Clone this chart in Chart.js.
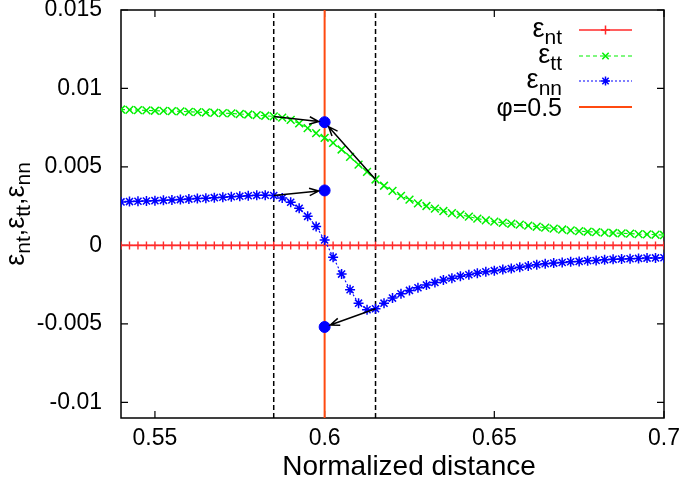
<!DOCTYPE html>
<html><head><meta charset="utf-8">
<script src="https://cdn.jsdelivr.net/npm/chart.js@4.4.0/dist/chart.umd.min.js"></script>
<style>html,body{margin:0;padding:0;background:#fff}canvas{display:block}</style>
</head><body>
<canvas id="c" width="685" height="491"></canvas>
<script>
// ---- data ----
const distance = [0.54,0.5425,0.545,0.5475,0.55,0.5525,0.555,0.5575,0.56,0.5625,0.565,0.5675,0.57,0.5725,0.575,0.5775,0.58,0.5825,0.585,0.5875,0.59,0.5925,0.595,0.5975,0.6,0.6025,0.605,0.6075,0.61,0.6125,0.615,0.6175,0.62,0.6225,0.625,0.6275,0.63,0.6325,0.635,0.6375,0.64,0.6425,0.645,0.6475,0.65,0.6525,0.655,0.6575,0.66,0.6625,0.665,0.6675,0.67,0.6725,0.675,0.6775,0.68,0.6825,0.685,0.6875,0.69,0.6925,0.695,0.6975,0.7];
const epsNT = [0,0,0,0,0,0,0,0,0,0,0,0,0,0,0,0,0,0,0,0,0,0,0,0,0,0,0,0,0,0,0,0,0,0,0,0,0,0,0,0,0,0,0,0,0,0,0,0,0,0,0,0,0,0,0,0,0,0,0,0,0,0,0,0,0];
const epsTT = [0.00866,0.00864,0.00862,0.0086,0.00858,0.00857,0.00856,0.00854,0.00851,0.00849,0.00847,0.00845,0.00843,0.00841,0.00837,0.00834,0.0083,0.00826,0.00822,0.00814,0.008,0.00777,0.00747,0.00715,0.00685,0.00653,0.00611,0.00564,0.00515,0.00468,0.0042,0.0038,0.00347,0.00315,0.00292,0.00268,0.00251,0.00234,0.00219,0.00206,0.00196,0.00183,0.00171,0.0016,0.00151,0.00144,0.00138,0.00132,0.00126,0.00119,0.00113,0.00107,0.00101,0.00096,0.00091,0.00087,0.00085,0.00081,0.00079,0.00077,0.00075,0.00072,0.0007,0.00068,0.00066];
const epsNN = [0.00277,0.00279,0.00281,0.00283,0.00285,0.00287,0.00289,0.00292,0.00295,0.00298,0.003,0.00304,0.00307,0.0031,0.00313,0.00316,0.00319,0.0032,0.00318,0.00302,0.00275,0.00236,0.00185,0.00121,0.00034,-0.00075,-0.00183,-0.00283,-0.00368,-0.0041,-0.00404,-0.00368,-0.00336,-0.00309,-0.00287,-0.0027,-0.00253,-0.00236,-0.0022,-0.00209,-0.00196,-0.00187,-0.00177,-0.00168,-0.00161,-0.00154,-0.00148,-0.00139,-0.00131,-0.00123,-0.00117,-0.00113,-0.00109,-0.00104,-0.00102,-0.00098,-0.00096,-0.00092,-0.00089,-0.00087,-0.00085,-0.00083,-0.00081,-0.0008,-0.00079];
const phiPosition = 0.6;
const bandEdges = [0.585, 0.615];
const projX = [0.6, 0.6, 0.6];
const projY = [0.00785, 0.0035, -0.0052];
const arrowFromX = [0.585, 0.615, 0.585, 0.615];
const arrowFromY = [0.00822, 0.0042, 0.00318, -0.00404];
const arrowToX = [0.6, 0.6, 0.6, 0.6];
const arrowToY = [0.00785, 0.00785, 0.0035, -0.0052];
const xTicks = [0.55, 0.6, 0.65, 0.7];
const yTicks = [-0.01, -0.005, 0, 0.005, 0.01, 0.015];
const xRange = [0.54, 0.7];
const yRange = [-0.011, 0.015];
const legendMain = ['ε', 'ε', 'ε', 'φ=0.5'];
const legendSub = ['nt', 'tt', 'nn', ''];
const yTitleParts = [['ε','nt'],[',',''],['ε','tt'],[',',''],['ε','nn']];
const xTitle = 'Normalized distance';

// ---- styling ----
const FONT = '"Liberation Sans", Arial, sans-serif';
const TICK_SIZE = 23;
const RED = '#ff2a2a', GREEN = '#00f000', BLUE = '#0000ff', ORANGE = '#ff4a10';

function pts(xs, ys) { return xs.map((x, i) => ({x: x, y: ys[i]})); }
function fmt(v) { return String(parseFloat(Number(v).toFixed(4))); }

const datasets = [
  {label:'εnt', data: pts(distance, epsNT), borderColor: RED, backgroundColor: RED, borderWidth: 1.6,
   pointStyle:'cross', pointRadius: 4, pointBorderWidth: 1.4, order: 3, clip: 0},
  {label:'εtt', data: pts(distance, epsTT), borderColor: GREEN, backgroundColor: GREEN, borderWidth: 1.1,
   borderDash:[4,3], pointStyle:'crossRot', pointRadius: 5.5, pointBorderWidth: 1.5, order: 2, clip: 0},
  {label:'εnn', data: pts(distance, epsNN), borderColor: BLUE, backgroundColor: BLUE, borderWidth: 1.1,
   borderDash:[2,2], pointStyle:'star', pointRadius: 5, pointBorderWidth: 1.5, order: 1, clip: 0},
  {label:'φ=0.5', data: [{x: phiPosition, y: yRange[0]}, {x: phiPosition, y: yRange[1]}], borderColor: ORANGE,
   borderWidth: 2, pointRadius: 0, order: 5},
  {label:'edge1', data: [{x: bandEdges[0], y: yRange[0]}, {x: bandEdges[0], y: yRange[1]}], borderColor:'#000',
   borderWidth: 1.5, borderDash:[5,3], pointRadius: 0, order: 6},
  {label:'edge2', data: [{x: bandEdges[1], y: yRange[0]}, {x: bandEdges[1], y: yRange[1]}], borderColor:'#000',
   borderWidth: 1.5, borderDash:[5,3], pointRadius: 0, order: 6},
  {label:'proj', type:'scatter', data: pts(projX, projY), backgroundColor: BLUE, borderColor: BLUE,
   pointRadius: 5.5, pointStyle:'circle', showLine:false, order: 0}
];

function drawSub(ctx, parts, x, y, align, mainSize, subSize, subShift) {
  ctx.save();
  ctx.textBaseline = 'alphabetic';
  const mf = mainSize + 'px ' + FONT, sf = subSize + 'px ' + FONT;
  let total = 0;
  parts.forEach(p => { ctx.font = mf; total += ctx.measureText(p[0]).width; if (p[1]) { ctx.font = sf; total += ctx.measureText(p[1]).width; } });
  let cx = align === 'right' ? x - total : (align === 'center' ? x - total / 2 : x);
  ctx.textAlign = 'left';
  parts.forEach(p => {
    ctx.font = mf; ctx.fillText(p[0], cx, y); cx += ctx.measureText(p[0]).width;
    if (p[1]) { ctx.font = sf; ctx.fillText(p[1], cx, y + subShift); cx += ctx.measureText(p[1]).width; }
  });
  ctx.restore();
}

function drawMarker(ctx, style, r, x, y, color) {
  ctx.save(); ctx.strokeStyle = color; ctx.lineWidth = 1.5; ctx.setLineDash([]);
  ctx.beginPath();
  if (style === 'cross' || style === 'star') { ctx.moveTo(x - r, y); ctx.lineTo(x + r, y); ctx.moveTo(x, y - r); ctx.lineTo(x, y + r); }
  if (style === 'crossRot' || style === 'star') { const d = r * 0.7071; ctx.moveTo(x - d, y - d); ctx.lineTo(x + d, y + d); ctx.moveTo(x - d, y + d); ctx.lineTo(x + d, y - d); }
  ctx.stroke(); ctx.restore();
}

const decor = {
  id: 'decor',
  beforeDatasetsDraw(chart) {
    const {ctx, chartArea: a, scales: {x, y}} = chart;
    ctx.save();
    ctx.strokeStyle = '#000'; ctx.lineWidth = 1.5; ctx.setLineDash([]);
    ctx.strokeRect(a.left, a.top, a.right - a.left, a.bottom - a.top);
    ctx.beginPath();
    const tl = 7;
    xTicks.forEach(v => { const px = x.getPixelForValue(v); ctx.moveTo(px, a.bottom); ctx.lineTo(px, a.bottom - tl); ctx.moveTo(px, a.top); ctx.lineTo(px, a.top + tl); });
    yTicks.forEach(v => { const py = y.getPixelForValue(v); ctx.moveTo(a.left, py); ctx.lineTo(a.left + tl, py); ctx.moveTo(a.right, py); ctx.lineTo(a.right - tl, py); });
    ctx.lineWidth = 1.2; ctx.stroke();
    ctx.restore();
  },
  afterDatasetsDraw(chart) {
    const {ctx, chartArea: a, scales: {x, y}} = chart;
    // arrows
    ctx.save();
    ctx.strokeStyle = '#000'; ctx.lineWidth = 1.5; ctx.setLineDash([]);
    arrowFromX.forEach((fx, i) => {
      const x1 = x.getPixelForValue(fx), y1 = y.getPixelForValue(arrowFromY[i]);
      const x2r = x.getPixelForValue(arrowToX[i]), y2r = y.getPixelForValue(arrowToY[i]);
      const ang = Math.atan2(y2r - y1, x2r - x1);
      const x2 = x2r - Math.cos(ang) * 6, y2 = y2r - Math.sin(ang) * 6;
      ctx.beginPath(); ctx.moveTo(x1, y1); ctx.lineTo(x2, y2);
      const hl = 10, ha = 0.38;
      ctx.moveTo(x2 - hl * Math.cos(ang - ha), y2 - hl * Math.sin(ang - ha)); ctx.lineTo(x2, y2);
      ctx.lineTo(x2 - hl * Math.cos(ang + ha), y2 - hl * Math.sin(ang + ha));
      ctx.stroke();
    });
    ctx.restore();
    // legend
    ctx.save();
    ctx.fillStyle = '#000';
    const textRight = 562, l0 = 579, l1 = 632, rowY = [30, 56, 81, 107];
    for (let i = 0; i < 4; i++) {
      const ds = chart.data.datasets[i];
      const ry = rowY[i];
      if (legendSub[i]) drawSub(ctx, [[legendMain[i], legendSub[i]]], textRight, ry + 7, 'right', 27, 21, 7);
      else drawSub(ctx, [[legendMain[i], '']], textRight, ry + 9, 'right', 25, 21, 0);
      ctx.save();
      ctx.strokeStyle = ds.borderColor; ctx.lineWidth = ds.borderWidth; ctx.setLineDash(ds.borderDash || []);
      ctx.beginPath(); ctx.moveTo(l0, ry); ctx.lineTo(l1, ry); ctx.stroke();
      ctx.restore();
      if (ds.pointRadius) drawMarker(ctx, ds.pointStyle, 4.5, (l0 + l1) / 2, ry, ds.borderColor);
    }
    ctx.restore();
    // axis titles
    ctx.save();
    ctx.fillStyle = '#000';
    ctx.font = '28px ' + FONT; ctx.textAlign = 'center'; ctx.textBaseline = 'middle';
    ctx.fillText(xTitle, 409, 467);
    ctx.translate(24, (a.top + a.bottom) / 2); ctx.rotate(-Math.PI / 2);
    drawSub(ctx, yTitleParts, 0, 0, 'center', 27, 21, 6);
    ctx.restore();
  }
};

function zeroPad(s) { s.paddingLeft = 0; s.paddingRight = 0; s.paddingTop = 0; s.paddingBottom = 0; }

new Chart(document.getElementById('c'), {
  type: 'line',
  data: { datasets: datasets },
  options: {
    responsive: false, animation: false, devicePixelRatio: 1,
    layout: { padding: { left: 0, top: 10, right: 21, bottom: 0 } },
    plugins: { legend: { display: false }, tooltip: { enabled: false } },
    scales: {
      x: { type: 'linear', min: xRange[0], max: xRange[1],
        afterBuildTicks: s => { s.ticks = xTicks.map(v => ({value: v})); },
        afterFit: s => { s.height = 73; zeroPad(s); },
        grid: { display: false, drawTicks: false }, border: { display: false },
        ticks: { callback: v => fmt(v), color: '#000', font: { family: FONT, size: TICK_SIZE }, padding: 7, maxRotation: 0, autoSkip: false } },
      y: { type: 'linear', min: yRange[0], max: yRange[1],
        afterBuildTicks: s => { s.ticks = yTicks.map(v => ({value: v})); },
        afterFit: s => { s.width = 121; zeroPad(s); },
        grid: { display: false, drawTicks: false }, border: { display: false },
        ticks: { callback: v => fmt(v), color: '#000', font: { family: FONT, size: TICK_SIZE }, padding: 19, autoSkip: false } }
    }
  },
  plugins: [decor]
});
</script>
</body></html>
